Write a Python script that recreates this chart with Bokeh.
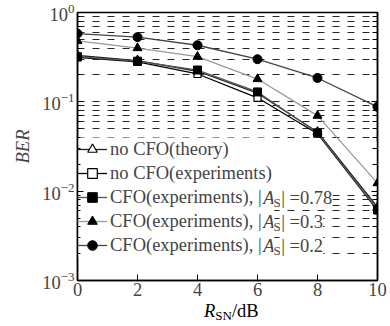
from bokeh.plotting import figure
from bokeh.layouts import column
from bokeh.models import (LogAxis, Legend, LegendItem, Label, FixedTicker, Range1d,
                          BoxAnnotation, Div)
from bokeh.embed import file_html
from bokeh.resources import INLINE

# ---- data ----
snr = [0, 2, 4, 6, 8, 10]
ber_theory = [0.33, 0.29, 0.22, 0.125, 0.046, 0.0066]
ber_nocfo_exp = [0.315, 0.28, 0.205, 0.111, 0.044, 0.0061]
ber_cfo_078 = [0.32, 0.285, 0.227, 0.129, 0.045, 0.0062]
ber_cfo_03 = [0.48, 0.40, 0.32, 0.18, 0.070, 0.0123]
ber_cfo_02 = [0.58, 0.53, 0.43, 0.30, 0.185, 0.088]
x_ticks = [0, 2, 4, 6, 8, 10]
y_ticks = [1e-3, 1e-2, 1e-1, 1.0]
y_minor = [m * d for d in [1e-3, 1e-2, 1e-1] for m in range(2, 10)]
as_values = ["0.78", "0.3", "0.2"]
legend_labels = ["no CFO(theory)", "no CFO(experiments)",
                 "CFO(experiments), |", "CFO(experiments), |", "CFO(experiments), |"]

FONT = "Liberation Serif"
FS = 18.5
FSS = 13

# Times metrics (per 1000 em) for layout of the composed texts
TW = {"C": 667, "F": 556, "O": 722, "(": 333, ")": 333, "e": 444, "x": 500, "p": 500,
      "r": 333, "i": 278, "m": 778, "n": 500, "t": 278, "s": 389, ",": 250, " ": 250,
      "|": 200, "A": 611, "S": 556, "N": 722, "R": 611, "1": 500, "0": 500, "o": 500,
      "h": 500, "y": 500}


def tw(s, size):
    return sum(TW.get(c, 500) for c in s) * size / 1000.0


p = figure(width=390, height=305, y_axis_type="log",
           x_range=Range1d(0, 10), y_range=Range1d(1e-3, 1.0),
           output_backend="svg", toolbar_location=None,
           min_border_left=77, min_border_right=13, min_border_top=12, min_border_bottom=25)
p.background_fill_color = "white"
p.border_fill_color = "white"
p.outline_line_color = "black"
p.outline_line_width = 1.5

# axes
xa = p.xaxis[0]
xa.ticker = FixedTicker(ticks=x_ticks, minor_ticks=[])
xa.major_tick_in = 6
xa.major_tick_out = 0
xa.minor_tick_in = 0
xa.minor_tick_out = 0
xa.axis_line_width = 1.5
xa.major_label_text_font = FONT
xa.major_label_text_font_size = f"{FS}px"
xa.major_label_standoff = 2

ya = p.yaxis[0]
ya.ticker = FixedTicker(ticks=y_ticks, minor_ticks=y_minor)
ya.major_tick_in = 6
ya.major_tick_out = 0
ya.minor_tick_in = 3
ya.minor_tick_out = 0
ya.axis_line_width = 1.5
ya.major_label_text_font = FONT
ya.major_label_text_font_size = f"{FS}px"
ya.major_label_standoff = 3
ya.axis_label = "BER"
ya.axis_label_text_font = FONT
ya.axis_label_text_font_style = "italic"
ya.axis_label_text_font_size = f"{FS}px"
ya.axis_label_standoff = 6

ra = LogAxis(ticker=FixedTicker(ticks=y_ticks, minor_ticks=y_minor),
             major_tick_in=6, major_tick_out=0, minor_tick_in=5, minor_tick_out=0,
             major_label_text_color=None, major_label_text_font_size="2px",
             axis_line_width=1.5, major_label_standoff=0)
p.add_layout(ra, "right")

# grid
p.xgrid.visible = False
p.ygrid.grid_line_color = "black"
p.ygrid.grid_line_dash = "7 8"
p.ygrid.grid_line_alpha = 0.85
p.ygrid.minor_grid_line_color = "black"
p.ygrid.minor_grid_line_dash = "7 8"
p.ygrid.minor_grid_line_alpha = 0.85

# legend geometry (screen px, relative to the plot frame)
ROW = 24
GW = 30
STAND = 3
LEG_Y = 23
n_rows = len(legend_labels)
leg_w = GW + STAND + tw("no CFO(experiments)", FS) + 2

# white areas behind the legend (hide the grid there, as in the reference)
p.add_layout(BoxAnnotation(left=0, right=10, top=0.036, bottom=0.0093, fill_color="white",
                           fill_alpha=1.0, line_color=None, level="underlay"))
p.add_layout(BoxAnnotation(left=0, right=leg_w, bottom=LEG_Y, top=LEG_Y + n_rows * ROW,
                           left_units="screen", right_units="screen",
                           bottom_units="screen", top_units="screen",
                           fill_color="white", fill_alpha=1.0, line_color=None, level="underlay"))

LW = 1.3
l_th = p.line(snr, ber_theory, line_color="#222222", line_width=LW)
l_ne = p.line(snr, ber_nocfo_exp, line_color="black", line_width=LW)
l_78 = p.line(snr, ber_cfo_078, line_color="#555555", line_width=LW)
l_03 = p.line(snr, ber_cfo_03, line_color="#999999", line_width=LW)
l_02 = p.line(snr, ber_cfo_02, line_color="#444444", line_width=LW)

m_th = p.scatter(snr, ber_theory, marker="triangle", size=9, fill_color="white", line_color="black", line_width=1.2)
m_ne = p.scatter(snr, ber_nocfo_exp, marker="square", size=7, fill_color="white", line_color="black", line_width=1.2)
m_78 = p.scatter(snr, ber_cfo_078, marker="square", size=8, fill_color="black", line_color="black")
m_03 = p.scatter(snr, ber_cfo_03, marker="triangle", size=9, fill_color="black", line_color="black")
m_02 = p.scatter(snr, ber_cfo_02, marker="circle", size=9, fill_color="black", line_color="black")

pairs = [(l_th, m_th), (l_ne, m_ne), (l_78, m_78), (l_03, m_03), (l_02, m_02)]
items = [LegendItem(label=lab, renderers=list(pr)) for lab, pr in zip(legend_labels, pairs)]

legend = Legend(items=items, location=(0, LEG_Y), glyph_width=GW, glyph_height=ROW,
                label_height=ROW, label_standoff=STAND, spacing=0, padding=0, margin=0,
                border_line_color=None, background_fill_alpha=0.0,
                label_text_font=FONT, label_text_font_size=f"{FS}px", label_text_baseline="middle")
p.add_layout(legend)

# composed "|A_S| =value" part of the last three legend rows
x0 = GW + STAND + tw("CFO(experiments), |", FS)
for k, val in enumerate(as_values):
    row = 2 + k
    yc = LEG_Y + n_rows * ROW - ROW / 2 - ROW * row
    xa_ = x0 + 1.0
    xs_ = xa_ + tw("A", FS) - 1.0
    xr_ = xs_ + tw("S", FSS) + 0.5
    p.add_layout(Label(x=xa_, y=yc, x_units="screen", y_units="screen", text="A",
                       text_font=FONT, text_font_style="italic", text_font_size=f"{FS}px",
                       text_baseline="middle", level="overlay"))
    p.add_layout(Label(x=xs_, y=yc - 5, x_units="screen", y_units="screen", text="S",
                       text_font=FONT, text_font_size=f"{FSS}px",
                       text_baseline="middle", level="overlay", background_fill_color="white"))
    p.add_layout(Label(x=xr_, y=yc, x_units="screen", y_units="screen", text="| =" + val,
                       text_font=FONT, text_font_size=f"{FS}px",
                       text_baseline="middle", level="overlay", background_fill_color="white"))

# x axis label  R_SN/dB  (HTML below the plot, with italic R and subscript SN)
xlabel = Div(text=('<div style="margin-left:204px; margin-top:-6px; white-space:nowrap; '
                   f"font-family:'{FONT}'; font-size:{FS}px; line-height:22px; color:black;\">"
                   '<i>R</i><sub style="font-size:13px; vertical-align:-3px;">SN</sub>/dB</div>'),
             width=390, height=21, margin=0)

layout = column(p, xlabel, spacing=0)

open("out.html", "w").write(file_html(layout, INLINE))
